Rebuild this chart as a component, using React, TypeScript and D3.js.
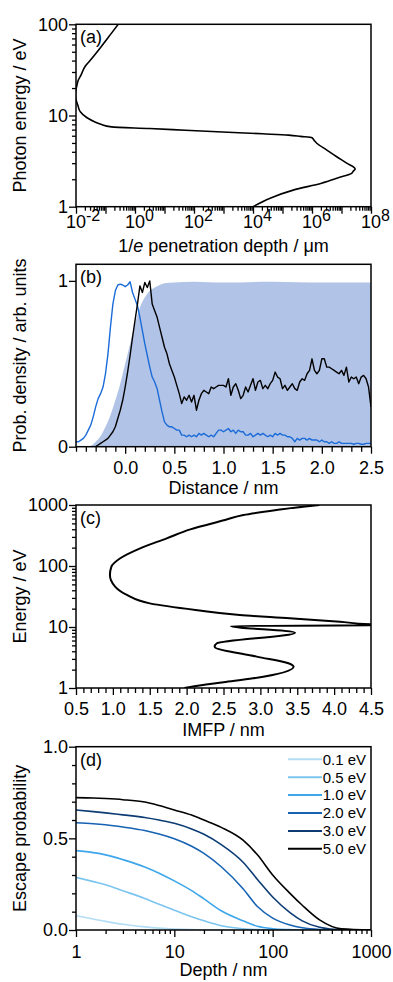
import { useEffect, useRef } from 'react';
import * as d3 from 'd3';

// (a) 1/e penetration depth (µm) against photon energy (eV)
const photonEnergy = [100, 80, 54.6, 40, 34.3, 28, 24.5, 21.5, 19, 17, 15, 13, 11, 9.5, 8.5, 8.0, 7.5, 7.2, 6.9, 6.6, 6.3, 6.1, 5.9, 5.7, 5.3, 4.96, 4.2, 3.53, 3.0, 2.59, 2.45, 2.32, 2.1, 1.81, 1.52, 1.24, 1.0];
const penetrationDepth = [0.27, 0.16, 0.065, 0.03, 0.02, 0.015, 0.012, 0.0108, 0.0099, 0.0096, 0.01, 0.0115, 0.014, 0.023, 0.044, 0.07, 0.16, 3.1, 50, 930, 2.1e4, 1.6e5, 4.1e5, 1e6, 1.2e6, 1.45e6, 3.1e6, 6.9e6, 1.5e7, 2.9e7, 2.5e7, 2.2e7, 8.7e6, 2.1e6, 2.3e5, 3.8e4, 1e4];
const depthTicksA = [1e-2, 1, 1e2, 1e4, 1e6, 1e8];
const energyTicksA = [1, 10, 100];

// (b) probability density against distance (nm), sampled every 0.025 nm
const distStep = 0.025;
const blueStart = -0.5;
const blueDensity = [
  0.03, 0.03, 0.04, 0.05, 0.07, 0.10, 0.13, 0.18, 0.24, 0.29,
  0.32, 0.36, 0.44, 0.56, 0.72, 0.86, 0.94, 0.975, 0.98, 0.975,
  0.965, 0.975, 0.995, 0.93, 0.89, 0.85, 0.78, 0.70, 0.62, 0.55,
  0.48, 0.42, 0.39, 0.35, 0.28, 0.21, 0.15, 0.13, 0.12, 0.12,
  0.11, 0.10, 0.10, 0.07, 0.07, 0.06, 0.07, 0.06, 0.07, 0.06,
  0.08, 0.07, 0.08, 0.07, 0.06, 0.07, 0.06, 0.08, 0.10, 0.10,
  0.09, 0.10, 0.11, 0.09, 0.10, 0.08, 0.10, 0.09, 0.09, 0.07,
  0.07, 0.08, 0.06, 0.07, 0.08, 0.07, 0.08, 0.07, 0.06, 0.07,
  0.06, 0.08, 0.07, 0.08, 0.07, 0.07, 0.06, 0.06, 0.05, 0.03,
  0.05, 0.04, 0.05, 0.05, 0.04, 0.05, 0.04, 0.04, 0.04, 0.03,
  0.04, 0.03, 0.03, 0.02, 0.03, 0.02, 0.02, 0.03, 0.02, 0.02,
  0.02, 0.02, 0.02, 0.015, 0.02, 0.02, 0.015, 0.015, 0.02, 0.02,
  0.02,
];
const blackStart = -0.3;
const blackDensity = [
  0.0, 0.01, 0.02, 0.03, 0.04, 0.05, 0.07, 0.09, 0.12, 0.17,
  0.22, 0.28, 0.36, 0.45, 0.55, 0.66, 0.76, 0.86, 0.97, 0.93,
  0.99, 0.96, 1.0, 0.86, 0.82, 0.78, 0.72, 0.66, 0.60, 0.56,
  0.50, 0.46, 0.42, 0.37, 0.32, 0.26, 0.30, 0.28, 0.31, 0.27,
  0.31, 0.22, 0.28, 0.32, 0.34, 0.33, 0.32, 0.36, 0.35, 0.36,
  0.37, 0.37, 0.37, 0.36, 0.41, 0.31, 0.36, 0.38, 0.34, 0.29,
  0.31, 0.36, 0.33, 0.37, 0.41, 0.34, 0.39, 0.40, 0.35, 0.37,
  0.35, 0.38, 0.40, 0.45, 0.42, 0.41, 0.35, 0.37, 0.34, 0.36,
  0.38, 0.35, 0.34, 0.39, 0.41, 0.40, 0.44, 0.46, 0.53, 0.46,
  0.44, 0.46, 0.53, 0.53, 0.48, 0.48, 0.47, 0.46, 0.45, 0.44,
  0.46, 0.43, 0.48, 0.39, 0.42, 0.41, 0.42, 0.38, 0.42, 0.43,
  0.41, 0.36, 0.24,
];
const fillDistance = [-0.5, -0.4, -0.35, -0.3, -0.25, -0.2, -0.15, -0.1, -0.05, 0, 0.05, 0.1, 0.15, 0.2, 0.25, 0.3, 0.35, 0.4, 0.5, 0.7, 1.0, 1.5, 2.0, 2.5];
const fillDensity = [0, 0, 0.005, 0.03, 0.065, 0.12, 0.19, 0.28, 0.38, 0.5, 0.62, 0.74, 0.84, 0.9, 0.94, 0.96, 0.975, 0.985, 0.99, 0.995, 0.99, 0.995, 0.99, 0.99];
const distTicks = [0, 0.5, 1.0, 1.5, 2.0, 2.5];
const densityTicks = [0, 1];

// (c) IMFP (nm) against energy (eV)
const imfpEnergy = [1000, 940, 828, 686, 568, 399, 284, 195, 134, 97.5, 71, 45.8, 33.5, 24.4, 19.0, 15.7, 13.9, 12.2, 11.1, 10.8, 10.4, 8.07, 5.4, 4.76, 3.27, 2.54, 2.24, 1.44, 1.24, 1.04, 1.0];
const imfpNm = [3.8, 3.58, 3.22, 2.77, 2.52, 2.05, 1.73, 1.37, 1.10, 0.98, 0.96, 1.03, 1.19, 1.50, 2.12, 2.72, 3.40, 4.08, 4.49, 5.5, 2.6, 3.47, 2.41, 2.38, 2.95, 3.38, 3.45, 2.90, 2.5, 2.05, 1.97];
const imfpTicks = [0.5, 1.0, 1.5, 2.0, 2.5, 3.0, 3.5, 4.0, 4.5];
const energyTicksC = [1, 10, 100, 1000];

// (d) escape probability against depth (nm)
const depthNm = [1, 1.5, 2, 3, 5, 7, 10, 15, 20, 30, 50, 70, 100, 150, 200, 300, 500, 1000];
const escape01 = [0.078, 0.06, 0.047, 0.031, 0.017, 0.01, 0.005, 0.002, 0.001, 0, 0, 0, 0, 0, 0, 0, 0, 0];
const escape05 = [0.287, 0.264, 0.247, 0.214, 0.172, 0.14, 0.108, 0.072, 0.05, 0.023, 0.007, 0.002, 0, 0, 0, 0, 0, 0];
const escape10 = [0.433, 0.422, 0.41, 0.384, 0.344, 0.31, 0.268, 0.215, 0.17, 0.105, 0.05, 0.02, 0.007, 0.002, 0, 0, 0, 0];
const escape20 = [0.585, 0.58, 0.574, 0.562, 0.543, 0.524, 0.498, 0.457, 0.418, 0.345, 0.225, 0.128, 0.065, 0.027, 0.012, 0.003, 0, 0];
const escape30 = [0.655, 0.646, 0.639, 0.628, 0.614, 0.6, 0.582, 0.551, 0.522, 0.466, 0.37, 0.276, 0.18, 0.095, 0.05, 0.015, 0.001, 0];
const escape50 = [0.722, 0.72, 0.717, 0.711, 0.698, 0.679, 0.655, 0.627, 0.6, 0.56, 0.49, 0.41, 0.3, 0.2, 0.135, 0.055, 0.006, 0];
const escapeSeries = [escape01, escape05, escape10, escape20, escape30, escape50];
const escapeLabels = ['0.1 eV', '0.5 eV', '1.0 eV', '2.0 eV', '3.0 eV', '5.0 eV'];
const escapeColors = ['#b3ddf5', '#7cc5ef', '#3ea6ea', '#1663b3', '#0c3c73', '#000000'];
const depthTicksD = [1, 10, 100, 1000];
const escapeTicks = [0, 0.5, 1.0];

const W = 393;
const H = 982;
const LEFT = 76;
const RIGHT = 371;
const FONT = '"Liberation Sans", Arial, Helvetica, sans-serif';
const TICK_FONT = 18;

type G = d3.Selection<SVGGElement, unknown, null, undefined>;
type S = d3.Selection<SVGSVGElement, unknown, null, undefined>;

function logMinor(e0: number, e1: number) {
  const out: number[] = [];
  for (let e = e0; e < e1; e++) for (let k = 2; k <= 9; k++) out.push(k * Math.pow(10, e));
  return out;
}

function linMinor(a: number, b: number, step: number, majors: number[]) {
  return d3
    .range(Math.round((b - a) / step) + 1)
    .map((i) => +(a + i * step).toFixed(4))
    .filter((v) => !majors.some((m) => Math.abs(m - v) < 1e-6));
}

function styleAxis(g: G) {
  g.select('.domain').remove();
  g.attr('font-family', null).attr('font-size', null);
  g.selectAll('line').attr('stroke', '#000').attr('stroke-width', 1.3);
  g.selectAll('text').attr('font-family', FONT).attr('font-size', TICK_FONT).attr('fill', '#000');
}

function addAxis(parent: G, axis: d3.Axis<d3.NumberValue>, tx: number, ty: number) {
  const g = parent.append('g').attr('transform', `translate(${tx},${ty})`) as G;
  g.call(axis);
  styleAxis(g);
  return g;
}

function panel(svg: S, id: string, top: number, bottom: number) {
  svg
    .append('clipPath')
    .attr('id', id)
    .append('rect')
    .attr('x', LEFT)
    .attr('y', top)
    .attr('width', RIGHT - LEFT)
    .attr('height', bottom - top);
  const g = svg.append('g') as G;
  const plot = g.append('g').attr('clip-path', `url(#${id})`) as G;
  return { g, plot };
}

function finishPanel(g: G, top: number, bottom: number, letter: string, yTitle: string, xTitle: string | null, xTitleY: number) {
  g.append('rect')
    .attr('x', LEFT)
    .attr('y', top)
    .attr('width', RIGHT - LEFT)
    .attr('height', bottom - top)
    .attr('fill', 'none')
    .attr('stroke', '#000')
    .attr('stroke-width', 1.5);

  g.append('text')
    .attr('x', 80)
    .attr('y', top + 19)
    .attr('font-family', FONT)
    .attr('font-size', 18)
    .text(letter);

  const mid = (top + bottom) / 2;
  g.append('text')
    .attr('transform', `translate(26,${mid}) rotate(-90)`)
    .attr('text-anchor', 'middle')
    .attr('font-family', FONT)
    .attr('font-size', 18)
    .text(yTitle);

  if (xTitle) {
    g.append('text')
      .attr('x', (LEFT + RIGHT) / 2)
      .attr('y', xTitleY)
      .attr('text-anchor', 'middle')
      .attr('font-family', FONT)
      .attr('font-size', 18)
      .text(xTitle);
  }
}

export default function App() {
  const svgRef = useRef<SVGSVGElement>(null);

  useEffect(() => {
    if (!svgRef.current) return;
    const svg = d3.select(svgRef.current) as S;
    svg.selectAll('*').remove();

    // ---------- (a) ----------
    const aTop = 24.3;
    const aBottom = 206.7;
    const xA = d3.scaleLog().domain([1e-2, 1e8]).range([LEFT, RIGHT]);
    const yA = d3.scaleLog().domain([1, 100]).range([aBottom, aTop]);
    const a = panel(svg, 'clip-a', aTop, aBottom);

    a.plot
      .append('path')
      .datum(photonEnergy.map((e, i) => [penetrationDepth[i], e] as [number, number]))
      .attr('fill', 'none')
      .attr('stroke', '#000')
      .attr('stroke-width', 1.6)
      .attr('d', d3.line<[number, number]>().x((d) => xA(d[0])).y((d) => yA(d[1])).curve(d3.curveMonotoneY));

    addAxis(a.g, d3.axisBottom(xA).tickValues(logMinor(-2, 8)).tickSize(4).tickFormat(() => ''), 0, aBottom);
    addAxis(a.g, d3.axisBottom(xA).tickValues(d3.range(-2, 9).map((e) => Math.pow(10, e))).tickSize(7).tickFormat(() => ''), 0, aBottom);
    addAxis(a.g, d3.axisLeft(yA).tickValues(logMinor(0, 2)).tickSize(4).tickFormat(() => ''), LEFT, 0);
    addAxis(a.g, d3.axisLeft(yA).tickValues(energyTicksA).tickSize(7).tickPadding(1).tickFormat(d3.format('d')), LEFT, 0);

    depthTicksA.forEach((v) => {
      const exp = Math.round(Math.log10(v));
      const t = a.g
        .append('text')
        .attr('x', xA(v) - 10)
        .attr('y', aBottom + 21.5)
        .attr('font-family', FONT)
        .attr('font-size', TICK_FONT);
      t.append('tspan').text('10');
      t.append('tspan').attr('dy', -7).attr('font-size', 16).text(exp < 0 ? `-${-exp}` : `${exp}`);
    });

    finishPanel(a.g, aTop, aBottom, '(a)', 'Photon energy / eV', null, 0);
    const aTitle = a.g
      .append('text')
      .attr('x', (LEFT + RIGHT) / 2)
      .attr('y', aBottom + 45)
      .attr('text-anchor', 'middle')
      .attr('font-family', FONT)
      .attr('font-size', 18);
    aTitle.append('tspan').text('1/');
    aTitle.append('tspan').attr('font-style', 'italic').text('e');
    aTitle.append('tspan').text(' penetration depth / \u03bcm');

    // ---------- (b) ----------
    const bTop = 264.3;
    const bBottom = 446.7;
    const xB = d3.scaleLinear().domain([-0.5, 2.5]).range([LEFT, RIGHT]);
    const yB = d3.scaleLinear().domain([0, 1.1]).range([bBottom, bTop]);
    const b = panel(svg, 'clip-b', bTop, bBottom);

    b.plot
      .append('path')
      .datum(fillDistance.map((x, i) => [x, fillDensity[i]] as [number, number]))
      .attr('fill', '#b1c3e6')
      .attr(
        'd',
        d3
          .area<[number, number]>()
          .x((d) => xB(d[0]))
          .y0(yB(0))
          .y1((d) => yB(d[1]))
          .curve(d3.curveMonotoneX)
      );

    const lineB = d3.line<[number, number]>().x((d) => xB(d[0])).y((d) => yB(d[1]));
    b.plot
      .append('path')
      .datum(blueDensity.map((v, i) => [blueStart + i * distStep, v] as [number, number]))
      .attr('fill', 'none')
      .attr('stroke', '#1b6cd8')
      .attr('stroke-width', 1.4)
      .attr('stroke-linejoin', 'round')
      .attr('d', lineB);
    b.plot
      .append('path')
      .datum(blackDensity.map((v, i) => [blackStart + i * distStep, v] as [number, number]))
      .attr('fill', 'none')
      .attr('stroke', '#000')
      .attr('stroke-width', 1.4)
      .attr('stroke-linejoin', 'round')
      .attr('d', lineB);

    addAxis(b.g, d3.axisBottom(xB).tickValues(linMinor(-0.5, 2.5, 0.1, distTicks)).tickSize(5).tickFormat(() => ''), 0, bBottom);
    addAxis(b.g, d3.axisBottom(xB).tickValues(distTicks).tickSize(7).tickPadding(7.5).tickFormat(d3.format('.1f')), 0, bBottom);
    addAxis(b.g, d3.axisLeft(yB).tickValues(densityTicks).tickSize(7).tickPadding(1).tickFormat(d3.format('d')), LEFT, 0);
    finishPanel(b.g, bTop, bBottom, '(b)', 'Prob. density / arb. units', 'Distance / nm', bBottom + 47.5);

    // ---------- (c) ----------
    const cTop = 505;
    const cBottom = 688;
    const xC = d3.scaleLinear().domain([0.5, 4.5]).range([LEFT, RIGHT]);
    const yC = d3.scaleLog().domain([1, 1000]).range([cBottom, cTop]);
    const c = panel(svg, 'clip-c', cTop, cBottom);

    c.plot
      .append('path')
      .datum(imfpEnergy.map((e, i) => [imfpNm[i], e] as [number, number]))
      .attr('fill', 'none')
      .attr('stroke', '#000')
      .attr('stroke-width', 2)
      .attr('stroke-linejoin', 'round')
      .attr('d', d3.line<[number, number]>().x((d) => xC(d[0])).y((d) => yC(d[1])).curve(d3.curveMonotoneY));

    addAxis(c.g, d3.axisBottom(xC).tickValues(linMinor(0.5, 4.5, 0.1, imfpTicks)).tickSize(5).tickFormat(() => ''), 0, cBottom);
    addAxis(c.g, d3.axisBottom(xC).tickValues(imfpTicks).tickSize(7).tickPadding(7.5).tickFormat(d3.format('.1f')), 0, cBottom);
    addAxis(c.g, d3.axisLeft(yC).tickValues(logMinor(0, 3)).tickSize(4).tickFormat(() => ''), LEFT, 0);
    addAxis(c.g, d3.axisLeft(yC).tickValues(energyTicksC).tickSize(7).tickPadding(1).tickFormat(d3.format('d')), LEFT, 0);
    finishPanel(c.g, cTop, cBottom, '(c)', 'Energy / eV', 'IMFP / nm', cBottom + 48);

    // ---------- (d) ----------
    const dTop = 746.7;
    const dBottom = 930;
    const xD = d3.scaleLog().domain([1, 1000]).range([LEFT, RIGHT]);
    const yD = d3.scaleLinear().domain([0, 1]).range([dBottom, dTop]);
    const dp = panel(svg, 'clip-d', dTop, dBottom);

    const lineD = d3
      .line<[number, number]>()
      .x((d) => xD(d[0]))
      .y((d) => yD(d[1]))
      .curve(d3.curveMonotoneX);
    escapeSeries.forEach((series, k) => {
      dp.plot
        .append('path')
        .datum(series.map((v, i) => [depthNm[i], v] as [number, number]))
        .attr('fill', 'none')
        .attr('stroke', escapeColors[k])
        .attr('stroke-width', 1.6)
        .attr('d', lineD);
    });

    addAxis(dp.g, d3.axisBottom(xD).tickValues(logMinor(0, 3)).tickSize(4).tickFormat(() => ''), 0, dBottom);
    addAxis(dp.g, d3.axisBottom(xD).tickValues(depthTicksD).tickSize(7).tickPadding(8).tickFormat(d3.format('d')), 0, dBottom);
    addAxis(dp.g, d3.axisLeft(yD).tickValues(linMinor(0, 1, 0.1, escapeTicks)).tickSize(4).tickFormat(() => ''), LEFT, 0);
    addAxis(dp.g, d3.axisLeft(yD).tickValues(escapeTicks).tickSize(7).tickPadding(1).tickFormat(d3.format('.1f')), LEFT, 0);

    const legend = dp.g.append('g');
    escapeLabels.forEach((label, k) => {
      const ly = 759.3 + k * 17.9;
      legend
        .append('line')
        .attr('x1', 288)
        .attr('x2', 322)
        .attr('y1', ly)
        .attr('y2', ly)
        .attr('stroke', escapeColors[k])
        .attr('stroke-width', 2);
      legend
        .append('text')
        .attr('x', 366)
        .attr('y', ly + 5.3)
        .attr('text-anchor', 'end')
        .attr('font-family', FONT)
        .attr('font-size', 15)
        .text(label);
    });

    finishPanel(dp.g, dTop, dBottom, '(d)', 'Escape probability', 'Depth / nm', dBottom + 46);
  }, []);

  return (
    <svg
      ref={svgRef}
      width={W}
      height={H}
      style={{ position: 'absolute', left: 0, top: 0, background: '#fff' }}
    />
  );
}
